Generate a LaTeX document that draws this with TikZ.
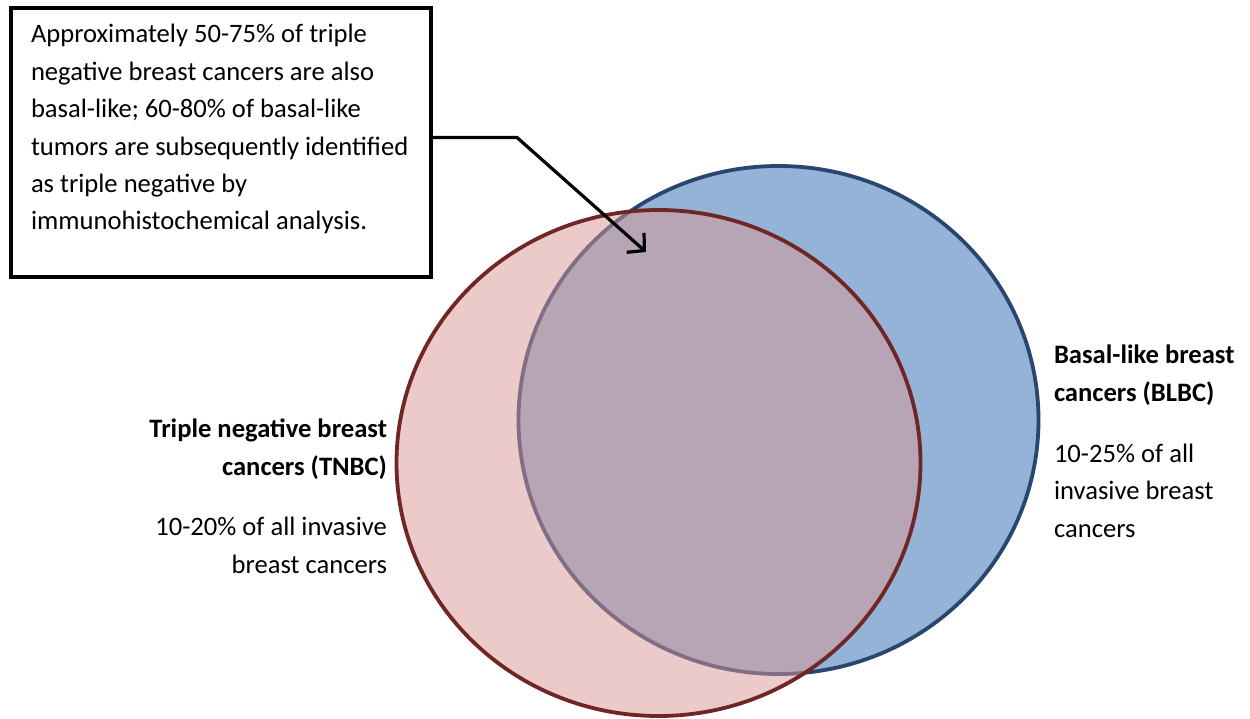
\documentclass[tikz,border=0pt]{standalone}
\usepackage{fontspec}
\setmainfont{Carlito}
\usetikzlibrary{shapes.geometric,arrows.meta}
\definecolor{bluefill}{RGB}{149,179,215}
\definecolor{bluedraw}{RGB}{40,70,112}
\definecolor{redfill}{RGB}{217,150,148}
\definecolor{reddraw}{RGB}{112,38,36}
\begin{document}
\begin{tikzpicture}[x=1pt,y=-1pt,
  venn/.style={ellipse, line width=3.8pt, inner sep=0pt, outer sep=0pt},
  txt/.style={font=\fontsize{26.6}{37.4}\selectfont, inner sep=0pt, outer sep=0pt},
  boldtxt/.style={font=\fontsize{26.6}{37.4}\selectfont\bfseries, inner sep=0pt, outer sep=0pt},
  callout/.style={draw=black, line width=3.2pt, fill=white, inner sep=0pt, outer sep=0pt},
  pointer/.style={draw=black, line width=3.2pt, -{Straight Barb[length=12pt,width=26pt,line width=3.2pt]}}]
\useasboundingbox (0,0) rectangle (1250,719);
% Venn ellipses
\node[venn, fill=bluefill, draw=bluedraw, minimum width=520, minimum height=508] (blbc) at (778.5,420) {};
\node[venn, fill=redfill, fill opacity=0.5, draw=reddraw, minimum width=524, minimum height=506] (tnbc) at (658.5,463) {};
% callout box
\node[callout, minimum width=420, minimum height=269] (box) at (221,142.5) {};
\node[txt, anchor=base west, align=left] (boxtext) at (31,230) {Approximately 50-75\% of triple\\negative breast cancers are also\\basal-like; 60-80\% of basal-like\\tumors are subsequently identified\\as triple negative by\\immunohistochemical analysis.};
\coordinate (bend) at (517,137.5);
\coordinate (tip) at (646,252);
\draw[pointer] ([yshift=5pt]box.east) -- (bend) -- (tip);
% labels
\node[boldtxt, anchor=base east, align=right] (tnbclab) at (387,475) {Triple negative breast\\cancers (TNBC)};
\node[txt, anchor=base east, align=right] (tnbcpct) at (387,573) {10-20\% of all invasive\\breast cancers};
\node[boldtxt, anchor=base west, align=left] (blbclab) at (1054,401) {Basal-like breast\\cancers (BLBC)};
\node[txt, anchor=base west, align=left] (blbcpct) at (1054,537) {10-25\% of all\\invasive breast\\cancers};
\end{tikzpicture}
\end{document}
